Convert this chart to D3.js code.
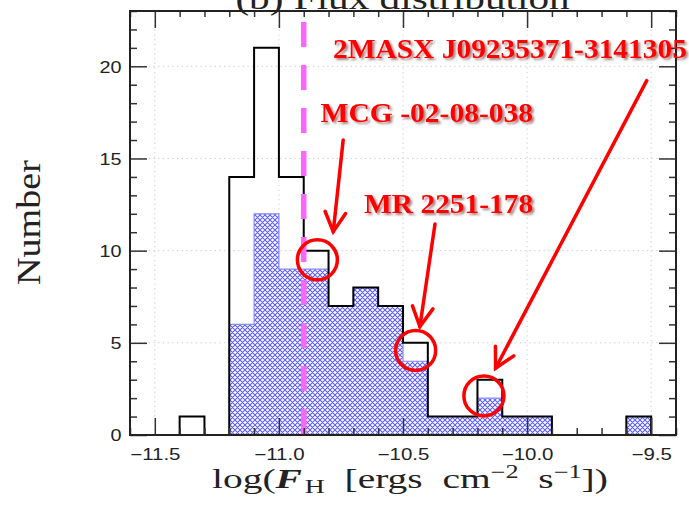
<!DOCTYPE html>
<html><head><meta charset="utf-8">
<script src="https://cdn.jsdelivr.net/npm/d3@7"></script>
<style>html,body{margin:0;padding:0;background:#fff;} svg{display:block}</style>
</head><body>
<svg id="c" width="689" height="505"></svg>
<script>
// ---------------- data ----------------
const binEdges = [-11.4,-11.3,-11.2,-11.1,-11.0,-10.9,-10.8,-10.7,-10.6,-10.5,-10.4,-10.3,-10.2,-10.1,-10.0,-9.9,-9.8,-9.7,-9.6,-9.5];
const totalCounts  = [1,0,14,21,14,10,7,8,7,5,1,1,3,1,1,0,0,0,1];
const subsetCounts = [0,0,6,12,9,9,7,8,7,4,1,1,2,1,1,0,0,0,1];
const xMajorTicks = [-11.5,-11.0,-10.5,-10.0,-9.5];
const xTickLabels = ["−11.5","−11.0","−10.5","−10.0","−9.5"];
const yMajorTicks = [0,5,10,15,20];
const yTickLabels = ["0","5","10","15","20"];
const cutValue = -10.9;
const markedX = [-10.845,-10.449,-10.174];
const markedY = [9.5,4.59,2.12];
const labelNames = ["2MASX J09235371-3141305","MCG -02-08-038","MR 2251-178"];
const labelX = [-10.782,-10.832,-10.657];
const labelY = [20.46,17.0,12.06];
const arrowFromX = [-9.518,-10.741,-10.371];
const arrowFromY = [19.22,16.0,11.45];
const arrowToX = [-10.127,-10.781,-10.432];
const arrowToY = [3.62,11.03,5.88];
const titleText = "(b) Flux distribution";
const yTitle = "Number";

// ---------------- layout ----------------
const W=689,H=505;
const L=130,R=676,T=11,B=435;
const labelWidths=[354,212.6,169.3];

const svg=d3.select("#c");
const x=d3.scaleLinear().domain([-11.6,-9.4]).range([L,R]);
const y=d3.scaleLinear().domain([0,23]).range([B,T]);

const defs=svg.append("defs");
const pat=defs.append("pattern").attr("id","hatch").attr("patternUnits","userSpaceOnUse")
  .attr("width",5).attr("height",5);
pat.append("rect").attr("width",5).attr("height",5).attr("fill","#fff");
pat.append("path").attr("d","M0,0L5,5M5,0L0,5M-1,4L1,6M4,-1L6,1M-1,1L1,-1M4,6L6,4")
  .attr("stroke","#5a5aff").attr("stroke-width",1.05).attr("fill","none");
const f=defs.append("filter").attr("id","shadow").attr("x","-10%").attr("y","-20%").attr("width","130%").attr("height","160%");
f.append("feDropShadow").attr("dx",2).attr("dy",2).attr("stdDeviation",1.2)
  .attr("flood-color","#500").attr("flood-opacity",0.5);

// grid
const grid=svg.append("g").attr("stroke","#c8c8c8").attr("stroke-width",1).attr("stroke-dasharray","1.2,3.5");
grid.selectAll(".gx").data(xMajorTicks).join("line")
  .attr("x1",d=>x(d)).attr("x2",d=>x(d)).attr("y1",T).attr("y2",B);
grid.selectAll(".gy").data(yMajorTicks.filter(d=>d>0)).join("line")
  .attr("x1",L).attr("x2",R).attr("y1",d=>y(d)).attr("y2",d=>y(d));

// step points
function stepPoints(counts){
  const p=[[binEdges[0],0]];
  counts.forEach((c,i)=>{p.push([binEdges[i],c]);p.push([binEdges[i+1],c]);});
  p.push([binEdges[binEdges.length-1],0]);
  return p;
}
const subPts=stepPoints(subsetCounts), totPts=stepPoints(totalCounts);
svg.append("path").datum(subPts)
  .attr("d",d3.area().x(d=>x(d[0])).y0(y(0)).y1(d=>y(d[1])))
  .attr("fill","url(#hatch)");
svg.append("path").datum(subPts)
  .attr("d",d3.line().x(d=>x(d[0])).y(d=>y(d[1])))
  .attr("fill","none").attr("stroke","#8a8aff").attr("stroke-width",1.2);
svg.append("path").datum(totPts)
  .attr("d",d3.line().x(d=>x(d[0])).y(d=>y(d[1])))
  .attr("fill","none").attr("stroke","#000").attr("stroke-width",2).attr("stroke-linejoin","miter");

// cut line
svg.append("line").attr("x1",x(cutValue)).attr("x2",x(cutValue)).attr("y1",y(23)).attr("y2",y(0))
  .attr("stroke","#ff66ff").attr("stroke-width",5.5).attr("stroke-dasharray","25,18").attr("stroke-dashoffset",32);

// axes ticks
const minor=d3.range(-116,-93,1).map(v=>v/10).filter(v=>!xMajorTicks.some(m=>Math.abs(m-v)<1e-6));
const yMinor=d3.range(0,24).filter(v=>v%5!==0);
function styleAxis(g){g.select(".domain").remove();g.selectAll("line").attr("stroke","#333").attr("stroke-width",1.5);}
const bx=svg.append("g").attr("transform",`translate(0,${B})`)
  .call(d3.axisBottom(x).tickValues(xMajorTicks).tickSize(-17).tickFormat((d,i)=>xTickLabels[i]));
styleAxis(bx);
bx.selectAll("text").attr("y",0).attr("dy",0).attr("font-family","Liberation Sans, Arial, sans-serif")
  .attr("font-size",16).attr("fill","#222").attr("transform","translate(0,24.5) scale(1.28,1)");
svg.append("g").attr("transform",`translate(0,${B})`).call(d3.axisBottom(x).tickValues(minor).tickSize(-7).tickFormat("")).call(styleAxis);
svg.append("g").attr("transform",`translate(0,${T})`).call(d3.axisTop(x).tickValues(xMajorTicks).tickSize(-17).tickFormat("")).call(styleAxis);
svg.append("g").attr("transform",`translate(0,${T})`).call(d3.axisTop(x).tickValues(minor).tickSize(-6).tickFormat("")).call(styleAxis);
const ly=svg.append("g").attr("transform",`translate(${L},0)`)
  .call(d3.axisLeft(y).tickValues(yMajorTicks).tickSize(-17).tickFormat((d,i)=>yTickLabels[i]));
styleAxis(ly);
ly.selectAll("text").attr("x",0).attr("dy","0.36em").attr("font-family","Liberation Sans, Arial, sans-serif")
  .attr("font-size",16).attr("fill","#222").attr("text-anchor","end").attr("transform","translate(-8.5,0) scale(1.24,1)");
svg.append("g").attr("transform",`translate(${L},0)`).call(d3.axisLeft(y).tickValues(yMinor).tickSize(-7).tickFormat("")).call(styleAxis);
svg.append("g").attr("transform",`translate(${R},0)`).call(d3.axisRight(y).tickValues(yMajorTicks).tickSize(-17).tickFormat("")).call(styleAxis);
svg.append("g").attr("transform",`translate(${R},0)`).call(d3.axisRight(y).tickValues(yMinor).tickSize(-7).tickFormat("")).call(styleAxis);

// frame
svg.append("rect").attr("x",L).attr("y",T).attr("width",R-L).attr("height",B-T)
  .attr("fill","none").attr("stroke","#222").attr("stroke-width",2);

// circles
svg.selectAll(".mk").data(markedX).join("circle")
  .attr("cx",d=>x(d)).attr("cy",(d,i)=>y(markedY[i])).attr("r",20)
  .attr("fill","none").attr("stroke","#ff0000").attr("stroke-width",3.5);

// arrows
function head(x1,y1,x2,y2,len,ang){
  const a=Math.atan2(y1-y2,x1-x2);
  return `M${x2+len*Math.cos(a+ang)},${y2+len*Math.sin(a+ang)}L${x2},${y2}L${x2+len*Math.cos(a-ang)},${y2+len*Math.sin(a-ang)}`;
}
const ag=svg.append("g").attr("stroke","#ff0000").attr("stroke-width",3.5).attr("fill","none").attr("stroke-linecap","round").attr("stroke-linejoin","miter");
arrowFromX.forEach((fx,i)=>{
  const x1=x(fx),y1=y(arrowFromY[i]),x2=x(arrowToX[i]),y2=y(arrowToY[i]);
  ag.append("path").attr("d",`M${x1},${y1}L${x2},${y2}`);
  ag.append("path").attr("d",head(x1,y1,x2,y2,22,0.49));
});

// red labels
labelNames.forEach((t,i)=>{
  const tx=svg.append("text").text(t).attr("x",0).attr("y",0)
    .attr("font-family","Liberation Serif, Times New Roman, serif").attr("font-weight","bold")
    .attr("font-size",27).attr("fill","#ff0000").attr("filter","url(#shadow)");
  const s=labelWidths[i]/tx.node().getBBox().width;
  tx.attr("transform",`translate(${x(labelX[i])},${y(labelY[i])}) scale(${s},1)`);
});

// title (clipped at top, as in the reference)
const tt=svg.append("text").text(titleText).attr("x",0).attr("y",0).attr("text-anchor","middle")
  .attr("font-family","Liberation Serif, Times New Roman, serif").attr("font-size",31).attr("fill","#222");
tt.attr("transform",`translate(402.5,8.5) scale(${335/tt.node().getBBox().width},1)`);

// y title
const yt=svg.append("text").text(yTitle).attr("x",0).attr("y",0).attr("text-anchor","middle")
  .attr("font-family","Liberation Serif, Times New Roman, serif").attr("font-size",33).attr("fill","#222");
yt.attr("transform",`translate(40,222.5) rotate(-90) scale(${125/yt.node().getBBox().width},1)`);

// x title
const xt=svg.append("text").attr("x",0).attr("y",0).attr("font-family","Liberation Serif, Times New Roman, serif")
  .attr("font-size",27).attr("fill","#222").style("white-space","pre");
xt.append("tspan").text("log(");
xt.append("tspan").text("F").attr("font-weight","bold").attr("font-style","italic");
xt.append("tspan").text("H").attr("font-size",19).attr("dy",5).attr("dx",2);
xt.append("tspan").text("  [ergs  cm").attr("dy",-5);
xt.append("tspan").text("−2").attr("font-size",18).attr("dy",-10);
xt.append("tspan").text("  s").attr("dy",10);
xt.append("tspan").text("−1").attr("font-size",18).attr("dy",-10);
xt.append("tspan").text("])").attr("dy",10);
xt.attr("transform",`translate(212,488) scale(${396/xt.node().getBBox().width},1)`);
</script>
</body></html>
